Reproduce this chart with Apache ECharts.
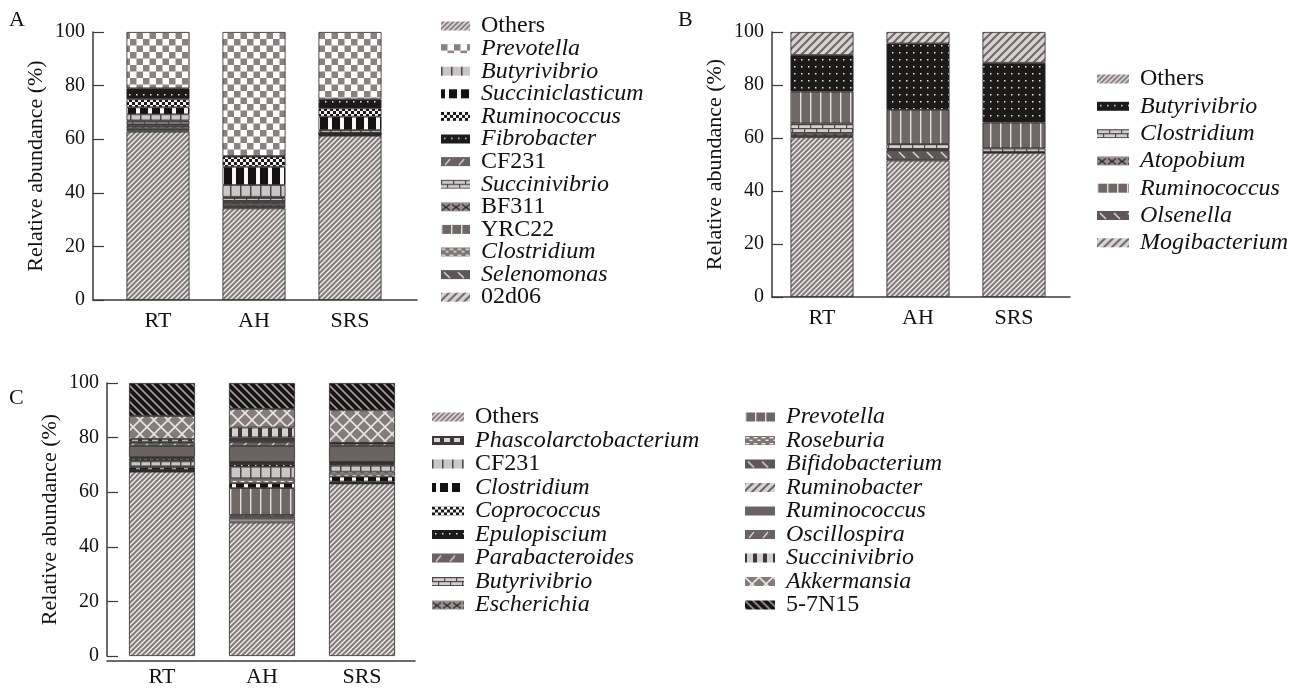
<!DOCTYPE html>
<html><head><meta charset="utf-8">
<script src="https://cdn.jsdelivr.net/npm/echarts@6/dist/echarts.min.js"></script>
<style>html,body{margin:0;padding:0;background:#fff}#c{width:1298px;height:688px}</style>
</head><body><div id="c"></div>
<script>
// ---------- DATA ----------
const cats = ['RT', 'AH', 'SRS'];
// Panel A (stack order bottom -> top)
const namesA = ['Others','02d06','Selenomonas','Clostridium','YRC22','BF311','Succinivibrio','CF231','Butyrivibrio','Succiniclasticum','Ruminococcus','Fibrobacter','Prevotella'];
const valuesA_RT  = [62.8, 0.5, 0.6, 0.7, 0.6, 0.4, 0.9, 0.5, 2.3, 2.6, 3.0, 4.1, 21.0];
const valuesA_AH  = [34.2, 0.4, 0.5, 0.8, 0.6, 0.5, 1.0, 0.5, 4.4, 6.8, 3.8, 0.2, 46.3];
const valuesA_SRS = [61.3, 0.2, 0.2, 0.2, 0.1, 0.1, 0.2, 0.1, 1.0, 5.0, 3.1, 3.4, 25.1];
const legendA = ['Others','Prevotella','Butyrivibrio','Succiniclasticum','Ruminococcus','Fibrobacter','CF231','Succinivibrio','BF311','YRC22','Clostridium','Selenomonas','02d06'];
// Panel B
const namesB = ['Others','Olsenella','Atopobium','Clostridium','Ruminococcus','Butyrivibrio','Mogibacterium'];
const valuesB_RT  = [60.3, 0.5, 0.8, 3.9, 12.0, 13.8, 8.7];
const valuesB_AH  = [51.5, 3.9, 0.3, 2.0, 12.9, 25.1, 4.3];
const valuesB_SRS = [54.4, 0.2, 0.2, 1.3, 9.7, 22.6, 11.6];
const legendB = ['Others','Butyrivibrio','Clostridium','Atopobium','Ruminococcus','Olsenella','Mogibacterium'];
// Panel C
const namesC = ['Others','Escherichia','Butyrivibrio','Parabacteroides','Prevotella','Clostridium','Roseburia','CF231','Epulopiscium','Coprococcus','Bifidobacterium','Ruminobacter','Ruminococcus','Oscillospira','Phascolarctobacterium','Succinivibrio','Akkermansia','5-7N15'];
const valuesC_RT  = [67.5, 0.2, 0.2, 0.2, 0.2, 0.8, 0.4, 1.8, 0.4, 0.6, 0.3, 0.3, 4.0, 1.2, 0.4, 1.0, 8.4, 12.1];
const valuesC_AH  = [48.9, 1.5, 0.6, 0.7, 9.8, 1.8, 1.8, 4.2, 1.0, 0.4, 0.2, 0.2, 5.8, 1.5, 1.7, 3.6, 6.8, 9.5];
const valuesC_SRS = [63.2, 0.1, 0.1, 0.1, 0.4, 1.8, 1.8, 2.2, 0.6, 0.4, 0.2, 0.2, 5.8, 1.0, 0.1, 0.1, 11.9, 10.0];
const legendC1 = ['Others','Phascolarctobacterium','CF231','Clostridium','Coprococcus','Epulopiscium','Parabacteroides','Butyrivibrio','Escherichia'];
const legendC2 = ['Prevotella','Roseburia','Bifidobacterium','Ruminobacter','Ruminococcus','Oscillospira','Succinivibrio','Akkermansia','5-7N15'];
const yTicks = [0, 20, 40, 60, 80, 100];
const upright = ['Others','CF231','BF311','YRC22','02d06','5-7N15'];

// ---------- PATTERNS (style only) ----------
function pat(w, h, draw) {
  const c = document.createElement('canvas'); c.width = w; c.height = h;
  const g = c.getContext('2d'); draw(g, w, h);
  return { image: c, repeat: 'repeat' };
}
function line(g, x1, y1, x2, y2) { g.beginPath(); g.moveTo(x1, y1); g.lineTo(x2, y2); g.stroke(); }
const P = {
  hatch: pat(5, 5, (g, w, h) => { g.fillStyle = '#857b7b'; g.fillRect(0,0,w,h); g.strokeStyle = '#f4f2f2'; g.lineWidth = 1.3;
    line(g, -1, h+1, w+1, -1); line(g, -1-w, h+1, 1, -1); line(g, w-1, h+1, 2*w+1, -1); }),
  lighthatch: pat(8, 8, (g, w, h) => { g.fillStyle = '#d9d4d4'; g.fillRect(0,0,w,h); g.strokeStyle = '#6f6666'; g.lineWidth = 2;
    line(g, -1, h+1, w+1, -1); line(g, -1-w, h+1, 1, -1); line(g, w-1, h+1, 2*w+1, -1); }),
  blackhatch: pat(8, 8, (g, w, h) => { g.fillStyle = '#161414'; g.fillRect(0,0,w,h); g.strokeStyle = '#a39a9a'; g.lineWidth = 1.6;
    line(g, -1, -1, w+1, h+1); line(g, -1-w, -1, 1, h+1); line(g, w-1, -1, 2*w+1, h+1); }),
  checker: pat(13, 13, (g, w, h) => { g.fillStyle = '#ffffff'; g.fillRect(0,0,w,h); g.fillStyle = '#8c8181';
    g.fillRect(0,0,6.5,6.5); g.fillRect(6.5,6.5,6.5,6.5); }),
  smallcheck: pat(6, 6, (g, w, h) => { g.fillStyle = '#f4f4f4'; g.fillRect(0,0,w,h); g.fillStyle = '#1a1818';
    g.fillRect(0,0,3,3); g.fillRect(3,3,3,3); }),
  blackbars: pat(12, 12, (g, w, h) => { g.fillStyle = '#141212'; g.fillRect(0,0,w,h); g.fillStyle = '#f7f7f7'; g.fillRect(4,0,4,h); }),
  lightcells: pat(10, 10, (g, w, h) => { g.fillStyle = '#cbc6c6'; g.fillRect(0,0,w,h); g.fillStyle = '#4e4848'; g.fillRect(0,0,1.5,h); }),
  lightsq: pat(10, 10, (g, w, h) => { g.fillStyle = '#3c3737'; g.fillRect(0,0,w,h); g.fillStyle = '#d5d0d0'; g.fillRect(2,0,6,h); }),
  darkdots: pat(7, 7, (g, w, h) => { g.fillStyle = '#1d1a1a'; g.fillRect(0,0,w,h); g.fillStyle = '#e8e4e4'; g.fillRect(3,3,1.5,1.5); }),
  bricks: pat(12, 8, (g, w, h) => { g.fillStyle = '#d4cfcf'; g.fillRect(0,0,w,h); g.fillStyle = '#4f4949';
    g.fillRect(0,0,w,1.2); g.fillRect(0,4,w,1.2); g.fillRect(0,0,1.2,4); g.fillRect(6,4,1.2,4); }),
  xx: pat(10, 10, (g, w, h) => { g.fillStyle = '#9b9191'; g.fillRect(0,0,w,h); g.strokeStyle = '#2b2727'; g.lineWidth = 1.3;
    line(g, 1, 2, 9, 8); line(g, 1, 8, 9, 2); }),
  vstripes: pat(10, 10, (g, w, h) => { g.fillStyle = '#6f6666'; g.fillRect(0,0,w,h); g.fillStyle = '#e4dfdf'; g.fillRect(0,0,1.4,h); }),
  dashes: pat(8, 6, (g, w, h) => { g.fillStyle = '#7d7474'; g.fillRect(0,0,w,h); g.fillStyle = '#efeaea';
    g.fillRect(0.5,1,4,1.4); g.fillRect(4.5,3.6,3,1.4); }),
  backslash: pat(14, 10, (g, w, h) => { g.fillStyle = '#5f5757'; g.fillRect(0,0,w,h); g.strokeStyle = '#dcd6d6'; g.lineWidth = 1.5; line(g, 3, 2, 9, 8); }),
  slash: pat(14, 10, (g, w, h) => { g.fillStyle = '#6a6262'; g.fillRect(0,0,w,h); g.strokeStyle = '#d6d0d0'; g.lineWidth = 1.3; line(g, 4, 8, 9, 2); }),
  flat: '#6b6262',
  diamond: pat(14, 14, (g, w, h) => { g.fillStyle = '#857b7b'; g.fillRect(0,0,w,h); g.strokeStyle = '#e9e5e5'; g.lineWidth = 1.6;
    line(g, 0, 0, w, h); line(g, 0, h, w, 0); }),
  phasco: pat(10, 8, (g, w, h) => { g.fillStyle = '#3f3a3a'; g.fillRect(0,0,w,h); g.fillStyle = '#d8d4d4'; g.fillRect(2,2,6,4); })
};
const patA = { Others:'hatch', Prevotella:'checker', Butyrivibrio:'lightcells', Succiniclasticum:'blackbars', Ruminococcus:'smallcheck',
  Fibrobacter:'darkdots', CF231:'slash', Succinivibrio:'bricks', BF311:'xx', YRC22:'vstripes', Clostridium:'dashes', Selenomonas:'backslash', '02d06':'lighthatch' };
const patB = { Others:'hatch', Butyrivibrio:'darkdots', Clostridium:'bricks', Atopobium:'xx', Ruminococcus:'vstripes', Olsenella:'backslash', Mogibacterium:'lighthatch' };
const patC = { Others:'hatch', Phascolarctobacterium:'phasco', CF231:'lightcells', Clostridium:'blackbars', Coprococcus:'smallcheck', Epulopiscium:'darkdots',
  Parabacteroides:'slash', Butyrivibrio:'bricks', Escherichia:'xx', Prevotella:'vstripes', Roseburia:'dashes', Bifidobacterium:'backslash',
  Ruminobacter:'lighthatch', Ruminococcus:'flat', Oscillospira:'slash', Succinivibrio:'lightsq', Akkermansia:'diamond', '5-7N15':'blackhatch' };

// ---------- BUILD ----------
const FONT = 'Liberation Serif';
const AX = '#3a3a3a';
const panels = [
  { key:'A', names:namesA, vals:[valuesA_RT, valuesA_AH, valuesA_SRS], pats:patA, barW:63,
    grid:{left:110, top:32, width:288, height:268}, yOffset:17, lineGrid:{left:93, top:32, width:324, height:268} },
  { key:'B', names:namesB, vals:[valuesB_RT, valuesB_AH, valuesB_SRS], pats:patB, barW:63,
    grid:{left:774, top:32, width:288, height:265}, yOffset:2, lineGrid:{left:772, top:32, width:298, height:265} },
  { key:'C', names:namesC, vals:[valuesC_RT, valuesC_AH, valuesC_SRS], pats:patC, barW:66,
    grid:{left:112, top:383, width:300, height:278}, yOffset:5, lineGrid:{left:107, top:383, width:308, height:278} }
];
const grids = [], xAxes = [], yAxes = [], series = [];
panels.forEach((p, pi) => {
  const gi = grids.length;
  grids.push(p.grid); grids.push(p.lineGrid);
  xAxes.push({ gridIndex: gi, type: 'category', data: cats,
    axisLine: { show: false },
    axisTick: { show: true, inside: true, length: 10, alignWithLabel: true, lineStyle: { color: AX, width: 1.2 } },
    axisLabel: { fontFamily: FONT, fontSize: 22, color: '#111', margin: 10 } });
  yAxes.push({ gridIndex: gi, type: 'value', min: 0, max: 100, interval: 20, offset: p.yOffset,
    axisLine: { show: true, lineStyle: { color: AX, width: 1.5 } },
    axisTick: { show: true, inside: true, length: 11, lineStyle: { color: AX, width: 1.2 } },
    axisLabel: { fontFamily: FONT, fontSize: 20, color: '#111', margin: 8, formatter: v => yTicks.includes(v) ? String(v) : '' },
    splitLine: { show: false },
    name: 'Relative abundance (%)', nameLocation: 'middle', nameGap: 46,
    nameTextStyle: { fontFamily: FONT, fontSize: 22, color: '#111' } });
  xAxes.push({ gridIndex: gi + 1, type: 'value', min: 0, max: 1,
    axisLine: { show: true, onZero: false, lineStyle: { color: AX, width: 1.5 } },
    axisTick: { show: false }, axisLabel: { show: false }, splitLine: { show: false } });
  yAxes.push({ gridIndex: gi + 1, type: 'value', min: 0, max: 100, show: false });
  const xi = pi * 2;
  p.names.forEach((n, i) => {
    series.push({ type: 'bar', name: p.key + ':' + n, stack: p.key, xAxisIndex: xi, yAxisIndex: xi,
      barWidth: p.barW, data: cats.map((c, j) => p.vals[j][i]),
      itemStyle: { color: P[p.pats[n]], borderColor: '#2b2828', borderWidth: 0.8 },
      emphasis: { disabled: true }, animation: false });
  });
});
function rich(fs, lh) {
  return {
    i: { fontFamily: FONT, fontStyle: 'italic', fontSize: fs, lineHeight: lh, color: '#111', padding: [0,0,0,6] },
    n: { fontFamily: FONT, fontSize: fs, lineHeight: lh, color: '#111', padding: [0,0,0,6] }
  };
}
function mkLegend(prefix, list, left, top, gap, iw, ih) {
  return { orient: 'vertical', left: left, top: top, padding: 0, itemGap: gap, itemWidth: iw, itemHeight: ih,
    icon: 'rect', selectedMode: false, itemStyle: { borderWidth: 0 },
    data: list.map(n => prefix + ':' + n),
    formatter: name => { const n = name.slice(2); return (upright.includes(n) ? '{n|' : '{i|') + n + '}'; },
    textStyle: { rich: rich(24, 21) } };
}
const option = {
  backgroundColor: '#fff', animation: false,
  title: [
    { text: 'A', left: 4, top: 4, textStyle: { fontFamily: FONT, fontSize: 22, fontWeight: 'normal', color: '#111' } },
    { text: 'B', left: 673, top: 4, textStyle: { fontFamily: FONT, fontSize: 22, fontWeight: 'normal', color: '#111' } },
    { text: 'C', left: 4, top: 382, textStyle: { fontFamily: FONT, fontSize: 22, fontWeight: 'normal', color: '#111' } }
  ],
  grid: grids, xAxis: xAxes, yAxis: yAxes, series: series,
  legend: [
    mkLegend('A', legendA, 441, 14, -1.4, 29, 9),
    mkLegend('B', legendB, 1097, 67, 3.3, 32, 9),
    mkLegend('C', legendC1, 432, 405, -0.5, 32, 9),
    mkLegend('C', legendC2, 745, 405, -0.5, 30, 9)
  ]
};
const chart = echarts.init(document.getElementById('c'), null, { renderer: 'canvas' });
chart.setOption(option);
</script></body></html>
